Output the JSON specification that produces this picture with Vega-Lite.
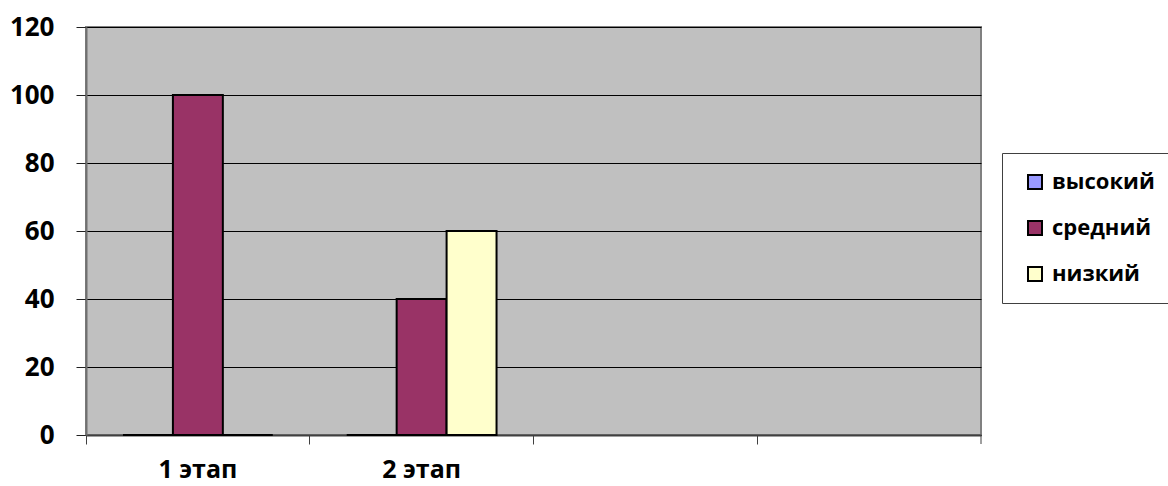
{
  "$schema": "https://vega.github.io/schema/vega-lite/v6.json",
  "width": 895,
  "height": 408,
  "autosize": "none",
  "padding": {"left": 86, "top": 27, "right": 187, "bottom": 51},
  "background": "white",
  "config": {
    "font": "Open Sans",
    "view": {"fill": "#C0C0C0", "stroke": "#808080", "strokeWidth": 2}
  },
  "data": {
    "values": [
      {"stage": "1 этап", "level": "высокий", "value": 0},
      {"stage": "1 этап", "level": "средний", "value": 100},
      {"stage": "1 этап", "level": "низкий", "value": 0},
      {"stage": "2 этап", "level": "высокий", "value": 0},
      {"stage": "2 этап", "level": "средний", "value": 40},
      {"stage": "2 этап", "level": "низкий", "value": 60}
    ]
  },
  "layer": [
    {
      "mark": {"type": "bar", "stroke": "black", "strokeWidth": 2},
      "encoding": {
        "x": {
          "field": "stage",
          "type": "nominal",
          "scale": {"domain": ["1 этап", "2 этап", "3", "4"], "paddingInner": 0, "paddingOuter": 0},
          "axis": {
            "title": null,
            "labelAngle": 0,
            "labelExpr": "indexof(datum.label, 'этап') >= 0 ? datum.label : ''",
            "labelFont": "Open Sans",
            "labelFontSize": 25,
            "labelFontWeight": "bold",
            "labelColor": "black",
            "labelPadding": 13,
            "bandPosition": 0,
            "tickSize": 9,
            "tickColor": "#404040",
            "domainColor": "#404040",
            "domainWidth": 2,
            "grid": false
          }
        },
        "xOffset": {
          "field": "level",
          "type": "nominal",
          "scale": {"domain": ["высокий", "средний", "низкий"], "paddingInner": 0, "paddingOuter": 0.74}
        },
        "y": {
          "field": "value",
          "type": "quantitative",
          "scale": {"domain": [0, 120], "nice": false},
          "axis": {
            "title": null,
            "values": [0, 20, 40, 60, 80, 100, 120],
            "labelFont": "Open Sans",
            "labelFontSize": 26,
            "labelFontWeight": "bold",
            "labelColor": "black",
            "labelPadding": 22,
            "tickSize": 10,
            "tickColor": "#202020",
            "domainColor": "#707070",
            "domainWidth": 2,
            "grid": true,
            "gridColor": "black",
            "gridWidth": 1
          }
        },
        "color": {
          "field": "level",
          "type": "nominal",
          "scale": {
            "domain": ["высокий", "средний", "низкий"],
            "range": ["#9999FF", "#993366", "#FFFFCC"]
          },
          "legend": {
            "title": null,
            "orient": "none",
            "legendX": 916,
            "legendY": 126,
            "padding": 18,
            "fillColor": "white",
            "strokeColor": "#404040",
            "symbolType": "square",
            "symbolSize": 196,
            "symbolStrokeColor": "black",
            "symbolStrokeWidth": 2,
            "symbolOpacity": 1,
            "labelFont": "Open Sans",
            "labelFontSize": 22,
            "labelFontWeight": "bold",
            "labelColor": "black",
            "labelOffset": 6,
            "rowPadding": 24,
            "symbolOffset": 4
          }
        }
      }
    },
    {
      "data": {"values": [{"stage": "4"}]},
      "mark": {"type": "rule", "color": "#404040", "strokeWidth": 1, "y2Offset": 9},
      "encoding": {
        "x": {"field": "stage", "type": "nominal", "bandPosition": 1},
        "y": {"datum": 0},
        "y2": {"datum": 0}
      }
    }
  ]
}
